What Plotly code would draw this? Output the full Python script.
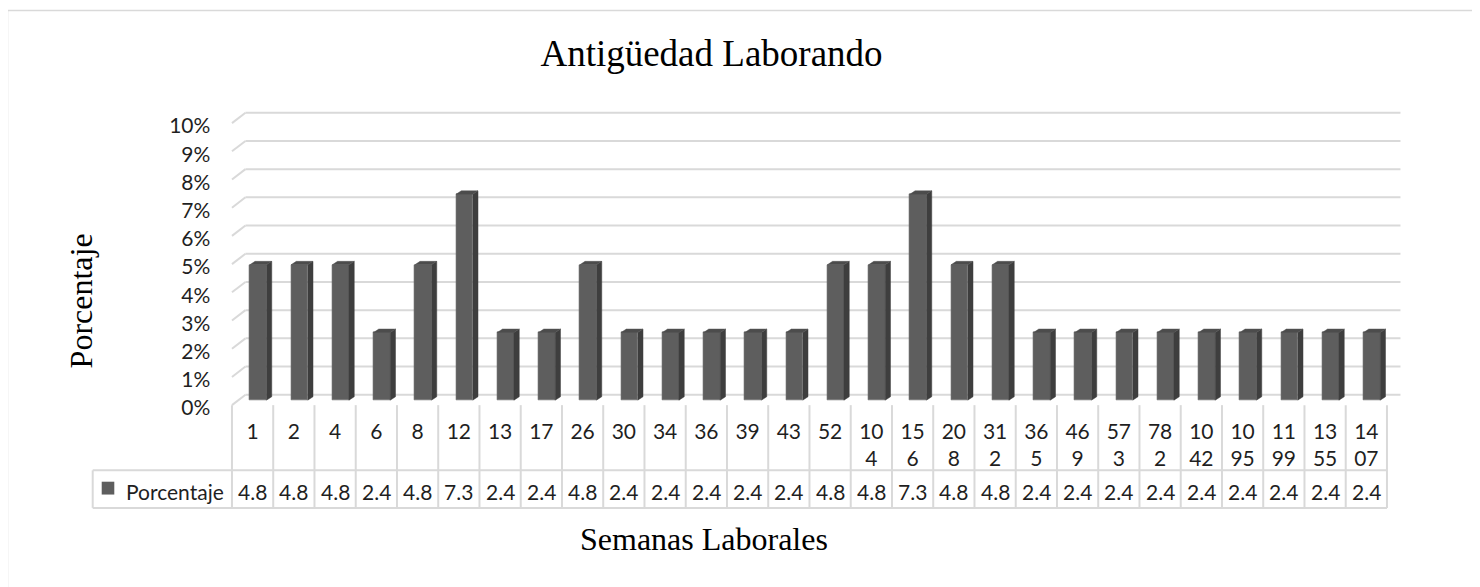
import plotly.graph_objects as go

# ---------------- data ----------------
categories = [1, 2, 4, 6, 8, 12, 13, 17, 26, 30, 34, 36, 39, 43, 52, 104, 156, 208,
              312, 365, 469, 573, 782, 1042, 1095, 1199, 1355, 1407]
values = [4.8, 4.8, 4.8, 2.4, 4.8, 7.3, 2.4, 2.4, 4.8, 2.4, 2.4, 2.4, 2.4, 2.4,
          4.8, 4.8, 7.3, 4.8, 4.8, 2.4, 2.4, 2.4, 2.4, 2.4, 2.4, 2.4, 2.4, 2.4]
y_ticks = list(range(0, 11))
y_tick_labels = [f"{t}%" for t in y_ticks]
series_name = "Porcentaje"
title_text = "Antigüedad Laborando"
x_title = "Semanas Laborales"
y_title = "Porcentaje"

# ---------------- geometry / style ----------------
OFF = 8                       # page margin around the plot div
W, H = 1480 - OFF, 587 - OFF  # figure size
X_RANGE = [-1.0, 28.0]
Y_RANGE = [-0.25, 10.6]
PX_X = 41.25          # pixels per category
PX_Y = 28.55          # pixels per percent
X_ORIGIN = 252.6      # screen pixel of category index 0 (front plane)
Y_ORIGIN = 410.0      # screen pixel of 0 % (front plane)


def sx(px):   # screen x pixel -> paper
    return (px - OFF) / W


def sy(py):   # screen y pixel -> paper
    return (H - (py - OFF)) / H


x0_px = X_ORIGIN + X_RANGE[0] * PX_X
x1_px = X_ORIGIN + X_RANGE[1] * PX_X
yb_px = Y_ORIGIN - Y_RANGE[0] * PX_Y
yt_px = Y_ORIGIN - Y_RANGE[1] * PX_Y
xdom = [sx(x0_px), sx(x1_px)]
ydom = [sy(yb_px), sy(yt_px)]


def xpaper(xv):
    return sx(X_ORIGIN + xv * PX_X)


# 3D offsets (in data units)
BACK_DX, BACK_DY = 13.5 / PX_X, 10.5 / PX_Y
BAR_SHIFT = 5.5 / PX_X
BAR_BASE = 5.0 / PX_Y
BAR_W = 16.7 / PX_X
DEP_DX, DEP_DY = 5.3 / PX_X, 3.5 / PX_Y

GRID = "#d9d9d9"
FRONT = "#5e5e5e"
SIDE = "#3e3e3e"
TOP = "#4c4c4c"
TXT = "#1f1f1f"
SANS = "Lato"
SERIF = "Liberation Serif"

idx = list(range(len(categories)))


def wrap(c):
    s = str(c)
    return s if len(s) <= 2 else s[:2] + "<br>" + s[2:]


fig = go.Figure()

# front faces of the columns
fig.add_trace(go.Bar(
    x=idx, y=values, base=BAR_BASE, width=BAR_W, offset=-BAR_W / 2 + BAR_SHIFT,
    marker=dict(color=FRONT, line=dict(width=0.6, color="#6a6a6a")),
    name=series_name, showlegend=False, hoverinfo="skip"))

# side and top faces computed from the data
side_x, side_y, top_x, top_y = [], [], [], []
for i, v in zip(idx, values):
    xl = i - BAR_W / 2 + BAR_SHIFT
    xr = xl + BAR_W
    yb = BAR_BASE
    yt = BAR_BASE + v
    side_x += [xr, xr + DEP_DX, xr + DEP_DX, xr, xr, None]
    side_y += [yb, yb + DEP_DY, yt + DEP_DY, yt, yb, None]
    top_x += [xl, xr, xr + DEP_DX, xl + DEP_DX, xl, None]
    top_y += [yt, yt, yt + DEP_DY, yt + DEP_DY, yt, None]

fig.add_trace(go.Scatter(x=side_x, y=side_y, mode="lines", fill="toself",
                         fillcolor=SIDE, line=dict(width=0.5, color=SIDE),
                         showlegend=False, hoverinfo="skip"))
fig.add_trace(go.Scatter(x=top_x, y=top_y, mode="lines", fill="toself",
                         fillcolor=TOP, line=dict(width=0.5, color="#555555"),
                         showlegend=False, hoverinfo="skip"))

shapes = []
# back-wall gridlines with slanted side edge
x_left = idx[0] - 0.5
x_right = idx[-1] + 0.5
for t in y_ticks:
    shapes.append(dict(type="line", xref="x", yref="y", layer="below",
                       x0=x_left, y0=t, x1=x_left + BACK_DX, y1=t + BACK_DY,
                       line=dict(color=GRID, width=2)))
    shapes.append(dict(type="line", xref="x", yref="y", layer="below",
                       x0=x_left + BACK_DX, y0=t + BACK_DY, x1=x_right + BACK_DX, y1=t + BACK_DY,
                       line=dict(color=GRID, width=2)))

# data table lines
TBL_TOP, TBL_MID, TBL_BOT = 410, 476, 514
LEG_LEFT = 92.7
for k in range(len(categories) + 1):
    shapes.append(dict(type="line", xref="x", yref="paper",
                       x0=k - 0.5, x1=k - 0.5, y0=sy(TBL_TOP), y1=sy(TBL_BOT),
                       line=dict(color=GRID, width=2)))
for py in (TBL_MID, TBL_BOT):
    shapes.append(dict(type="line", xref="paper", yref="paper",
                       x0=sx(LEG_LEFT), x1=xpaper(x_right), y0=sy(py), y1=sy(py),
                       line=dict(color=GRID, width=2)))
shapes.append(dict(type="line", xref="paper", yref="paper",
                   x0=sx(LEG_LEFT), x1=sx(LEG_LEFT), y0=sy(TBL_MID), y1=sy(TBL_BOT),
                   line=dict(color=GRID, width=2)))
# legend key
shapes.append(dict(type="rect", xref="paper", yref="paper",
                   x0=sx(101.7), x1=sx(114.3), y0=sy(500.5), y1=sy(487.5),
                   fillcolor=FRONT, line=dict(width=0)))
# chart border
shapes.append(dict(type="rect", xref="paper", yref="paper",
                   x0=sx(7.5), x1=sx(1474), y0=-0.2, y1=sy(10.5),
                   line=dict(color=GRID, width=1.5), layer="below"))

annotations = []
ROW_Y = 497.5
for i, v in zip(idx, values):
    annotations.append(dict(x=i, xref="x", y=sy(ROW_Y), yref="paper",
                            text=f"{v}", showarrow=False, xanchor="center", yanchor="middle",
                            font=dict(family=SANS, size=21, color=TXT)))
annotations.append(dict(x=sx(123.5), xref="paper", y=sy(ROW_Y), yref="paper",
                        text=series_name, showarrow=False, xanchor="left", yanchor="middle",
                        font=dict(family=SANS, size=21, color=TXT)))
annotations.append(dict(x=sx(703.7), xref="paper", y=sy(545), yref="paper",
                        text=x_title, showarrow=False, xanchor="center", yanchor="middle",
                        font=dict(family=SERIF, size=32, color="#000000")))
annotations.append(dict(x=sx(81), xref="paper", y=sy(305), yref="paper",
                        text=y_title, showarrow=False, xanchor="center", yanchor="middle",
                        textangle=-90,
                        font=dict(family=SERIF, size=32, color="#000000")))

fig.update_layout(
    width=W, height=H,
    margin=dict(l=0, r=0, t=0, b=0),
    paper_bgcolor="white", plot_bgcolor="rgba(0,0,0,0)",
    title=dict(text=title_text, x=sx(711.5), xanchor="center", xref="paper",
               y=sy(54), yanchor="middle", yref="paper",
               font=dict(family=SERIF, size=37, color="#000000")),
    xaxis=dict(domain=xdom, range=X_RANGE, showgrid=False, zeroline=False,
               showline=False, tickmode="array", tickvals=idx,
               ticktext=[wrap(c) for c in categories], ticks="",
               tickfont=dict(family=SANS, size=21, color=TXT), ticklabelstandoff=5),
    yaxis=dict(domain=ydom, range=Y_RANGE, showgrid=False, zeroline=False,
               showline=False, tickmode="array", tickvals=y_ticks,
               ticktext=y_tick_labels,
               ticks="", tickfont=dict(family=SANS, size=21, color=TXT),
               ticklabelstandoff=0, ticklabelshift=3),
    shapes=shapes, annotations=annotations,
    bargap=0, showlegend=False,
)

fig.write_html("out.html")
